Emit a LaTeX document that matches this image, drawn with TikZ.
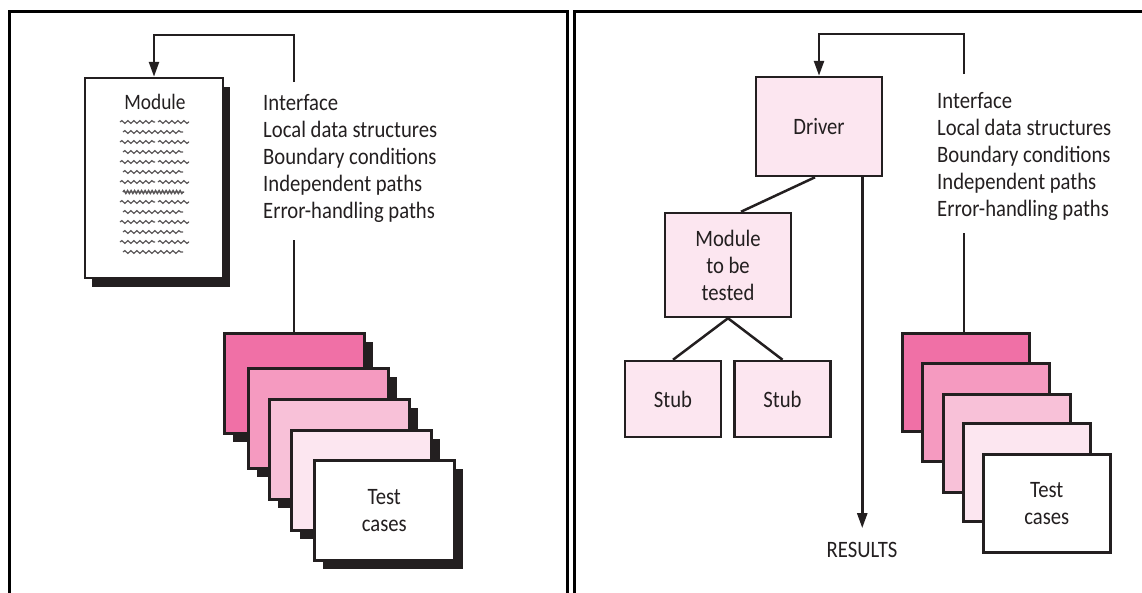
\documentclass[tikz,border=0pt]{standalone}
\usepackage{fontspec}
\setmainfont{Carlito}[FakeStretch=0.88]
\usetikzlibrary{arrows.meta,shadows,decorations.pathmorphing,calc}

\definecolor{ink}{HTML}{231F20}
\definecolor{pinkA}{HTML}{F070A6}
\definecolor{pinkB}{HTML}{F59AC0}
\definecolor{pinkC}{HTML}{F8C1D8}
\definecolor{pinkD}{HTML}{FCE6F0}

\begin{document}
\begin{tikzpicture}[x=1pt,y=-1pt,
  frame/.style={line width=3pt, black},
  wire/.style={line width=2.5pt, ink},
  tip/.style={-{Triangle[length=15pt,width=10pt]}},
  label/.style={font=\fontsize{23.5}{27}\selectfont, text=ink, inner sep=0pt},
  list/.style={label, align=left, anchor=west},
  box/.style={draw=ink, line width=2.5pt, fill=pinkD, label, align=center},
  lcard/.style={draw=ink, line width=2.5pt, minimum width=140pt, minimum height=100pt,
    anchor=north west, label, align=center},
  shadowed/.style={drop shadow={shadow xshift=9pt, shadow yshift=-9pt, fill=ink, opacity=1}},
  rcard/.style={draw=ink, line width=2.5pt, minimum width=127pt, minimum height=98pt,
    anchor=north west, label, align=center},
  squig/.style={draw=ink!75, line width=1.2pt,
    decorate, decoration={snake, segment length=6pt, amplitude=1.4pt}},
]
\useasboundingbox (0,0) rectangle (1142,592);

% panel frames
\draw[frame] (9,596) -- (9,11) -- (567,11) -- (567,596);
\draw[frame] (574,596) -- (574,11) -- (1146,11);

% ---------- left panel: module under test ----------
\node[draw=ink, line width=2.5pt, fill=white, minimum width=138pt, minimum height=200pt,
  drop shadow={shadow xshift=7pt, shadow yshift=-9pt, fill=ink, opacity=1}]
  (page) at (154,178) {};
\node[label, font=\fontsize{22}{24}\selectfont] (pagetitle) at (155,102) {Module};
% scribbled source lines on the page
\foreach \r in {0,2,4,6,8,10,12} {
  \draw[squig] (120,122+10*\r) -- (155,122+10*\r);
  \draw[squig] (158,122+10*\r) -- (189,122+10*\r);
}
\foreach \r in {1,3,5,9,11,13} {
  \draw[squig] (123,122+10*\r) -- (183,122+10*\r);
}
\draw[draw=ink!75, line width=1.5pt, decorate,
  decoration={snake, segment length=3.5pt, amplitude=1.4pt}] (123,192) -- (184,192);

\node[list] (llist) at (263,158.5) {Interface\\Local data structures\\Boundary conditions\\Independent paths\\Error-handling paths};

% test cases stack
\node[lcard, shadowed, fill=pinkA] (lc1) at (223,332) {};
\node[lcard, shadowed, fill=pinkB] (lc2) at (247,367) {};
\node[lcard, shadowed, fill=pinkC] (lc3) at (268,398) {};
\node[lcard, shadowed, fill=pinkD] (lc4) at (290,429) {};
\node[lcard, shadowed, fill=white] (lc5) at (313,459) {Test\\cases};

\coordinate (lfeed) at (294,82);
\coordinate (ltop) at (294,35);
\coordinate (lfeedb) at (294,240);
\draw[wire, tip] (lfeed) -- (ltop) -| (page.north);
\draw[wire] (lfeedb) -- (lfeedb |- lc1.north);

% ---------- right panel: driver and stubs ----------
\node[box, minimum width=126pt, minimum height=99pt] (drv) at (819,126.5) {Driver};
\node[box, minimum width=126pt, minimum height=104pt] (mut) at (728,265) {Module\\to be\\tested};
\node[box, minimum width=96pt, minimum height=76pt] (stubA) at (673,399) {Stub};
\node[box, minimum width=96pt, minimum height=76pt] (stubB) at (782.5,399) {Stub};
\node[label] (res) at (862,550) {RESULTS};

\draw[wire] ([xshift=-4pt]drv.south) -- ([xshift=13pt]mut.north);
\draw[wire] (mut.south) -- (stubA.north);
\draw[wire] (mut.south) -- (stubB.north);
\coordinate (dout) at ([xshift=-21pt]drv.south east);
\draw[wire, tip] (dout) -- ($(dout |- res.north)+(0,-14)$);

\node[list] (rlist) at (937,156) {Interface\\Local data structures\\Boundary conditions\\Independent paths\\Error-handling paths};

\node[rcard, fill=pinkA] (rc1) at (901,332) {};
\node[rcard, fill=pinkB] (rc2) at (921,362) {};
\node[rcard, fill=pinkC] (rc3) at (942,393) {};
\node[rcard, fill=pinkD] (rc4) at (962,422) {};
\node[rcard, fill=white] (rc5) at (982,453) {Test\\cases};

\coordinate (rfeed) at (964,74);
\coordinate (rtop) at (964,34);
\coordinate (rfeedb) at (964,233);
\draw[wire, tip] (rfeed) -- (rtop) -| (drv.north);
\draw[wire] (rfeedb) -- (rfeedb |- rc1.north);
\end{tikzpicture}
\end{document}
